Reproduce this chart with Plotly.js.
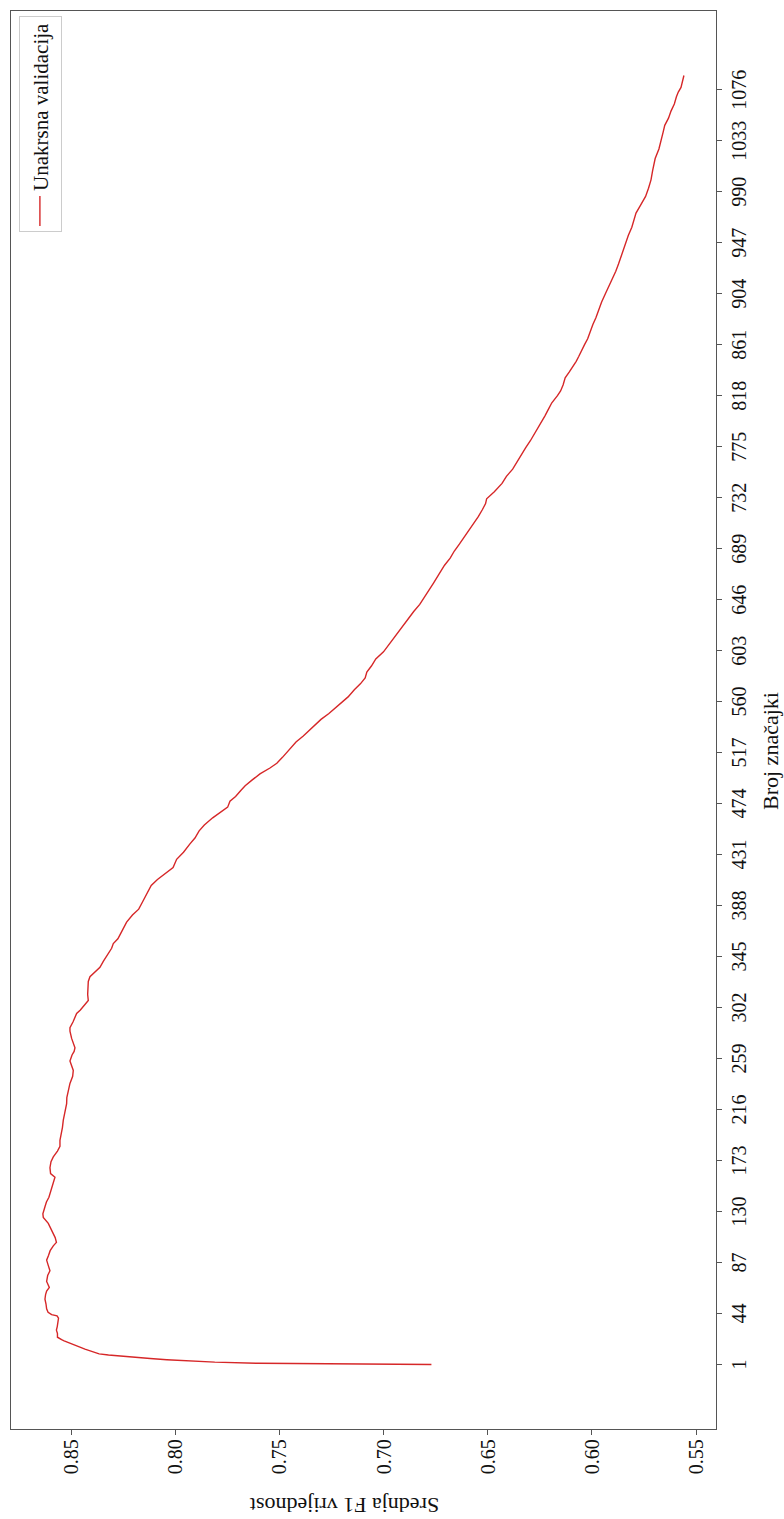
<!DOCTYPE html>
<html>
<head>
<meta charset="utf-8">
<script src="https://cdn.plot.ly/plotly-3.0.1.min.js"></script>
<style>
  html, body { margin: 0; padding: 0; background: #ffffff; overflow: hidden; width: 784px; height: 1519px; }
  #chart {
    position: absolute; left: 0; top: 0;
    width: 1519px; height: 784px;
    transform-origin: 0 0;
    transform: translate(0px, 1519px) rotate(-90deg);
  }
</style>
</head>
<body>
<div id="chart"></div>
<script>
// Number of features (x) and mean F1 score (y)
const features = [1,2,3,4,5,6,7,8,9,10,11,12,13,14,15,16,17,18,19,20,21,22,23,24,27,30,33,36,40,42,43,45,48,52,56,60,63,66,71,76,80,85,89,93,97,101,104,108,113,117,120,125,128,134,138,142,147,152,156,159,162,167,172,176,181,185,190,196,201,207,212,218,221,226,232,238,244,249,253,257,262,265,268,272,276,282,285,290,294,297,300,304,308,313,319,324,328,332,336,341,347,352,356,360,365,370,374,380,385,390,395,400,405,410,415,420,427,433,440,445,451,456,462,468,471,476,480,485,489,494,499,504,508,513,518,522,526,531,536,540,545,550,555,559,564,570,575,580,585,590,596,602,608,613,618,624,630,636,642,648,654,660,667,675,681,687,693,698,704,710,716,722,727,731,737,744,750,756,762,768,774,780,785,790,795,801,806,812,818,822,827,833,838,843,847,851,856,861,866,872,878,884,890,897,904,911,917,923,929,935,941,947,953,960,966,972,978,986,993,1000,1008,1018,1026,1034,1040,1046,1052,1058,1064,1070,1074,1078,1083,1088];
const f1Values = [0.677,0.760,0.781,0.795,0.804,0.812,0.8195,0.826,0.832,0.8365,0.8385,0.8402,0.8418,0.8433,0.8448,0.8464,0.848,0.8495,0.8508,0.852,0.8533,0.8545,0.8556,0.8565,0.8565,0.857,0.8566,0.8562,0.856,0.8567,0.8593,0.861,0.8617,0.862,0.8625,0.8622,0.8617,0.8604,0.8617,0.8612,0.8601,0.861,0.8617,0.8608,0.86,0.8585,0.857,0.8576,0.859,0.8598,0.8609,0.8633,0.8635,0.8625,0.8618,0.8606,0.8598,0.859,0.8582,0.8577,0.8598,0.8601,0.8596,0.8585,0.8565,0.8553,0.8553,0.8546,0.8541,0.8537,0.853,0.8523,0.8521,0.852,0.8513,0.8505,0.8492,0.8489,0.8497,0.8505,0.8495,0.8485,0.8481,0.849,0.8497,0.8505,0.8505,0.849,0.848,0.8473,0.8455,0.8435,0.8417,0.842,0.8417,0.8417,0.8409,0.8385,0.8361,0.8345,0.8321,0.8305,0.8297,0.8275,0.826,0.8243,0.8233,0.8205,0.8175,0.816,0.8145,0.813,0.8115,0.8085,0.805,0.801,0.7993,0.796,0.7929,0.7905,0.7885,0.786,0.782,0.7775,0.7748,0.7737,0.771,0.7685,0.7664,0.763,0.7593,0.7545,0.7512,0.7485,0.746,0.7442,0.742,0.7385,0.7355,0.7332,0.73,0.7262,0.7228,0.7203,0.717,0.714,0.7111,0.7088,0.708,0.7058,0.7037,0.700,0.6975,0.6955,0.6932,0.6909,0.688,0.6855,0.6826,0.6805,0.6785,0.676,0.6735,0.6707,0.668,0.666,0.6635,0.6615,0.659,0.657,0.6545,0.6525,0.651,0.6505,0.6468,0.6431,0.641,0.638,0.636,0.6339,0.6318,0.6295,0.6278,0.626,0.6247,0.6225,0.621,0.6192,0.6165,0.615,0.6138,0.6128,0.6108,0.6088,0.6075,0.6063,0.605,0.6035,0.602,0.6009,0.5995,0.598,0.5968,0.5953,0.5935,0.5916,0.59,0.5885,0.5872,0.5861,0.5848,0.5838,0.5825,0.5808,0.5797,0.5788,0.5768,0.5742,0.5728,0.5716,0.5708,0.5696,0.5678,0.5665,0.5658,0.565,0.5632,0.562,0.5604,0.5594,0.5585,0.5572,0.5565,0.5558];
const featureTicks = [1,44,87,130,173,216,259,302,345,388,431,474,517,560,603,646,689,732,775,818,861,904,947,990,1033,1076];
const f1Ticks = [0.55,0.60,0.65,0.70,0.75,0.80,0.85];
const f1TickText = ["0.55","0.60","0.65","0.70","0.75","0.80","0.85"];
const seriesName = "Unakrsna validacija";
const xTitle = "Broj značajki";
const yTitle = "Srednja F1 vrijednost";

const serif = "Liberation Serif, Times New Roman, serif";
const axisColor = "#555555";
const textColor = "#111111";

const trace = {
  x: features,
  y: f1Values,
  type: "scatter",
  mode: "lines",
  name: seriesName,
  line: { color: "#d62728", width: 1.4 },
  showlegend: true
};

const layout = {
  width: 1519,
  height: 784,
  margin: { l: 90, r: 11, t: 11, b: 68 },
  paper_bgcolor: "#ffffff",
  plot_bgcolor: "#ffffff",
  font: { family: serif, color: textColor, size: 20 },
  showlegend: true,
  legend: {
    x: 0.9965, y: 0.989, xanchor: "right", yanchor: "top",
    bgcolor: "rgba(255,255,255,0.9)",
    bordercolor: "#cccccc", borderwidth: 1,
    font: { family: serif, size: 21, color: textColor },
    itemwidth: 30,
    tracegroupgap: 0
  },
  xaxis: {
    range: [-53.4, 1142.4],
    tickmode: "array",
    tickvals: featureTicks,
    ticktext: featureTicks.map(String),
    ticks: "outside", ticklen: 5, tickwidth: 1, tickcolor: axisColor,
    showline: true, linecolor: axisColor, linewidth: 1.3, mirror: true,
    showgrid: false, zeroline: false,
    tickfont: { family: serif, size: 20, color: textColor }
  },
  yaxis: {
    range: [0.5404, 0.8788],
    tickmode: "array",
    tickvals: f1Ticks,
    ticktext: f1TickText,
    ticks: "outside", ticklen: 5, tickwidth: 1, tickcolor: axisColor,
    showline: true, linecolor: axisColor, linewidth: 1.3, mirror: true,
    showgrid: false, zeroline: false,
    tickfont: { family: serif, size: 20, color: textColor }
  },
  annotations: [
    {
      text: xTitle, xref: "paper", yref: "paper",
      x: 0.478, y: -0.078, xanchor: "center", yanchor: "middle",
      showarrow: false, font: { family: serif, size: 22, color: textColor }
    },
    {
      text: yTitle, xref: "paper", yref: "paper",
      x: -0.0543, y: 0.526, xanchor: "center", yanchor: "middle",
      textangle: -90,
      showarrow: false, font: { family: serif, size: 22, color: textColor }
    }
  ]
};

Plotly.newPlot("chart", [trace], layout, { displayModeBar: false, responsive: false, staticPlot: true });
</script>
</body>
</html>
